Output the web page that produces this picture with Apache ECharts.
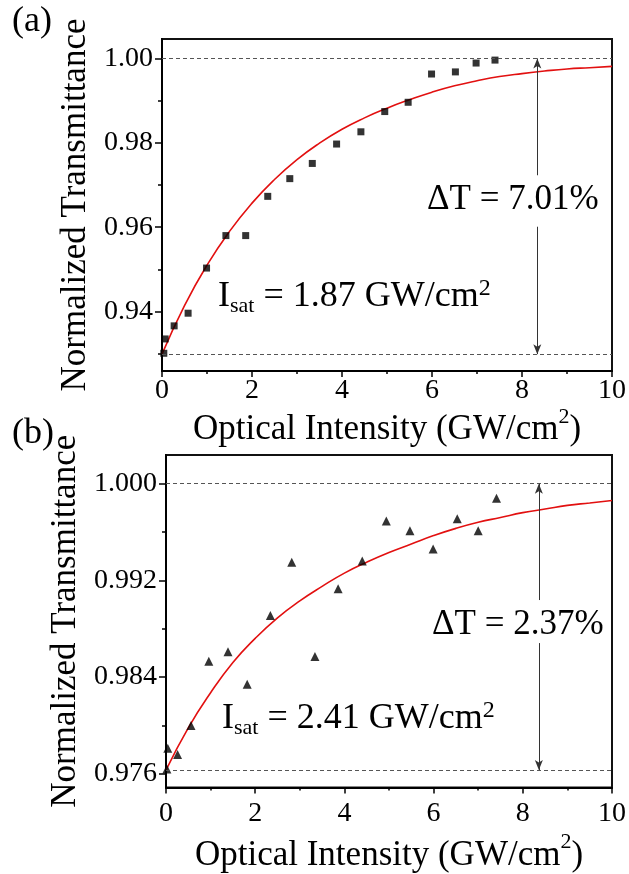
<!DOCTYPE html>
<html><head><meta charset="utf-8">
<script src="https://cdn.jsdelivr.net/npm/echarts@6/dist/echarts.min.js"></script>
<style>html,body{margin:0;padding:0;background:#fff}#c{width:629px;height:874px}</style>
</head><body><div id="c"></div>
<script>
// ---- data (a) ----
const intensityA = [0.04,0.07,0.27,0.58,0.99,1.42,1.86,2.35,2.84,3.34,3.88,4.42,4.95,5.47,5.99,6.52,6.98,7.40];
const transA     = [0.9301,0.9335,0.9366,0.9396,0.9503,0.9580,0.9580,0.9673,0.9715,0.9751,0.9797,0.9826,0.9874,0.9896,0.9963,0.9968,0.9989,0.9996];
const fitX       = [0,0.5,1,1.5,2,2.5,3,3.5,4,4.5,5,5.5,6,6.5,7,7.5,8,8.5,9,9.5,10];
const fitA       = [0.9299,0.9414,0.9510,0.9590,0.9657,0.9713,0.9760,0.9799,0.9832,0.9859,0.9882,0.9902,0.9920,0.9935,0.9947,0.9957,0.9964,0.9970,0.9975,0.9978,0.9981];
const deltaTA = 0.0701;
// ---- data (b) ----
const intensityB = [0.02,0.04,0.26,0.56,0.96,1.39,1.82,2.34,2.82,3.34,3.86,4.40,4.94,5.47,5.99,6.53,7.00,7.41];
const transB     = [0.9764,0.9781,0.9776,0.9800,0.9853,0.9861,0.9834,0.9891,0.9935,0.9857,0.9913,0.9936,0.9969,0.9961,0.9946,0.9971,0.9961,0.9988];
const fitB       = [0.9763,0.9798,0.9827,0.9852,0.9872,0.9889,0.9903,0.9915,0.9926,0.9935,0.9943,0.9950,0.9957,0.9963,0.9968,0.9972,0.9976,0.9979,0.9982,0.9984,0.9986];
const deltaTB = 0.0237;
// ---- ticks ----
const xTicks = [0,2,4,6,8,10];
const yMajorA = [0.94,0.96,0.98,1.00];
const yMinorA = [0.93,0.95,0.97,0.99];
const yMajorB = [0.976,0.984,0.992,1.000];
const yMinorB = [0.980,0.988,0.996];
// ---- annotation values ----
const arrowXA = 8.34, gapA = [0.9723, 0.9601];
const arrowXB = 8.36, gapB = [0.99037, 0.98681];

const FONT = "'Liberation Serif','Times New Roman',serif";
const zip = (xs, ys) => xs.map((x, i) => [x, ys[i]]);

function xAxisCfg(grid) {
  return {
    gridIndex: grid, type: 'value', min: xTicks[0], max: xTicks[xTicks.length-1], interval: 2,
    name: '{m|Optical Intensity (GW/cm}{sup|2}{m|)}', nameLocation: 'middle', nameGap: grid === 0 ? 22 : 44,
    nameTextStyle: { rich: {
      m: { fontFamily: FONT, fontSize: 35, color: '#000', lineHeight: 48, verticalAlign: 'middle' },
      sup: { fontFamily: FONT, fontSize: 22, color: '#000', lineHeight: 36, verticalAlign: 'top' } } },
    axisLine: { lineStyle: { color: '#000', width: 2 } },
    axisTick: { inside: false, length: 6, lineStyle: { color: '#000', width: 1.5 } },
    minorTick: { show: true, splitNumber: 2, length: 3, lineStyle: { color: '#000', width: 1.5 } },
    axisLabel: { fontFamily: FONT, fontSize: 28, color: '#000', margin: grid === 0 ? 6 : 12 },
    splitLine: { show: false }, minorSplitLine: { show: false }
  };
}
function yMajor(grid, min, max, ticks, dec, gap) {
  return {
    gridIndex: grid, type: 'value', min: min, max: max,
    name: 'Normalized Transmittance', nameLocation: 'middle', nameRotate: 90, nameGap: gap,
    nameTextStyle: { fontFamily: FONT, fontSize: 35, color: '#000' },
    axisLine: { show: true, lineStyle: { color: '#000', width: 2 } },
    axisTick: { show: true, inside: false, length: 7, customValues: ticks, lineStyle: { color: '#000', width: 1.5 } },
    axisLabel: { fontFamily: FONT, fontSize: 28, color: '#000', margin: 9, customValues: ticks,
                 formatter: v => Number(v).toFixed(dec) },
    splitLine: { show: false }
  };
}
function yMinor(grid, min, max, ticks) {
  return {
    gridIndex: grid, type: 'value', min: min, max: max, position: 'left',
    axisLine: { show: false },
    axisTick: { show: true, inside: false, length: 4, customValues: ticks, lineStyle: { color: '#000', width: 1.5 } },
    axisLabel: { show: false }, splitLine: { show: false }
  };
}
const dashed = { color: '#555', type: [4, 3], width: 1 };
const arrowStyle = { color: '#333', width: 1, type: 'solid' };
function marks(deltaT, ax, gap) {
  return {
    silent: true, symbol: 'none', label: { show: false }, animation: false, precision: 6,
    data: [
      { yAxis: 1.0, lineStyle: dashed },
      { yAxis: 1 - deltaT, lineStyle: dashed },
      [ { coord: [ax, 1.0], symbol: 'arrow', symbolSize: [6, 10], lineStyle: arrowStyle }, { coord: [ax, gap[0]], symbol: 'none' } ],
      [ { coord: [ax, gap[1]], symbol: 'none', lineStyle: arrowStyle }, { coord: [ax, 1 - deltaT], symbol: 'arrow', symbolSize: [6, 10] } ]
    ]
  };
}

const chart = echarts.init(document.getElementById('c'), null, { renderer: 'canvas' });
const isatRich = {
  m:   { fontFamily: FONT, fontSize: 36, fill: '#000', lineHeight: 40, verticalAlign: 'middle' },
  sub: { fontFamily: FONT, fontSize: 22, fill: '#000', lineHeight: 18, verticalAlign: 'bottom' },
  sup: { fontFamily: FONT, fontSize: 24, fill: '#000', lineHeight: 36, verticalAlign: 'top' }
};
chart.setOption({
  animation: false,
  backgroundColor: '#fff',
  grid: [
    { left: 162, top: 39, width: 451, height: 332, show: true, borderColor: '#111', borderWidth: 2, backgroundColor: 'transparent' },
    { left: 166, top: 455, width: 451, height: 337, show: true, borderColor: '#111', borderWidth: 2, backgroundColor: 'transparent' }
  ],
  xAxis: [ xAxisCfg(0), xAxisCfg(1) ],
  yAxis: [
    yMajor(0, 0.9259, 1.0046, yMajorA, 2, 67),
    yMinor(0, 0.9259, 1.0046, yMinorA),
    yMajor(1, 0.97486, 1.00237, yMajorB, 3, 71),
    yMinor(1, 0.97486, 1.00237, yMinorB)
  ],
  series: [
    { type: 'line', xAxisIndex: 0, yAxisIndex: 0, data: zip(fitX, fitA), smooth: true, showSymbol: false,
      lineStyle: { color: '#e21010', width: 1.6 }, z: 2 },
    { type: 'scatter', xAxisIndex: 0, yAxisIndex: 0, data: zip(intensityA, transA), symbol: 'rect', symbolSize: 7,
      itemStyle: { color: '#000' }, z: 3, markLine: marks(deltaTA, arrowXA, gapA) },
    { type: 'line', xAxisIndex: 1, yAxisIndex: 2, data: zip(fitX, fitB), smooth: true, showSymbol: false,
      lineStyle: { color: '#e21010', width: 1.6 }, z: 2 },
    { type: 'scatter', xAxisIndex: 1, yAxisIndex: 2, data: zip(intensityB, transB), symbol: 'triangle', symbolSize: 9,
      itemStyle: { color: '#000' }, z: 3, markLine: marks(deltaTB, arrowXB, gapB) }
  ],
  graphic: [
    { type: 'text', left: 12, top: 4, style: { text: '(a)', fontFamily: FONT, fontSize: 36, fill: '#000' } },
    { type: 'text', left: 12, top: 416, style: { text: '(b)', fontFamily: FONT, fontSize: 36, fill: '#000' } },
    { type: 'text', x: 427, y: 200, style: { text: 'ΔT = 7.01%', fontFamily: FONT, fontSize: 35, fill: '#000', verticalAlign: 'middle' } },
    { type: 'text', x: 432, y: 625, style: { text: 'ΔT = 2.37%', fontFamily: FONT, fontSize: 35, fill: '#000', verticalAlign: 'middle' } },
    { type: 'text', x: 218, y: 277, style: { text: '{m|I}{sub|sat}{m| = 1.87 GW/cm}{sup|2}', rich: isatRich, verticalAlign: 'top' } },
    { type: 'text', x: 222, y: 699, style: { text: '{m|I}{sub|sat}{m| = 2.41 GW/cm}{sup|2}', rich: isatRich, verticalAlign: 'top' } }
  ]
});
</script></body></html>
